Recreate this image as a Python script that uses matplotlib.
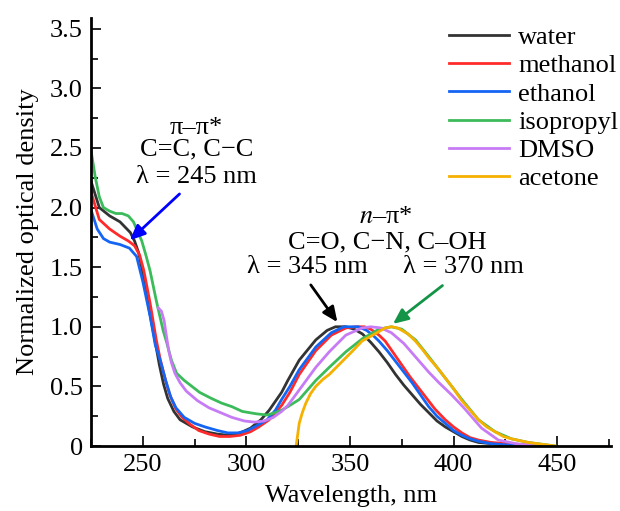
import matplotlib
matplotlib.use("Agg")
import matplotlib.pyplot as plt
from matplotlib.ticker import MultipleLocator

# Spectra (wavelength nm, normalized optical density)
wl_water = [225, 229, 234, 239, 244, 246, 248, 250, 253, 255.5, 258, 260, 262, 265, 268, 274, 280, 286, 291, 297,
            302, 307, 311, 317, 320, 325.5, 333.5, 339, 343, 348, 352, 356, 360, 364, 368, 372, 376, 380, 384, 388,
            392, 396, 400, 404, 408, 412, 418, 425, 435, 445]
od_water = [2.22, 2.00, 1.93, 1.88, 1.79, 1.72, 1.62, 1.45, 1.15, 0.92, 0.68, 0.52, 0.40, 0.29, 0.22, 0.16, 0.12, 0.10, 0.09, 0.11,
            0.15, 0.22, 0.30, 0.45, 0.55, 0.72, 0.89, 0.97, 1.00, 1.00, 0.98, 0.94, 0.87, 0.79, 0.70, 0.60, 0.51, 0.43, 0.35, 0.28,
            0.21, 0.16, 0.12, 0.08, 0.05, 0.03, 0.02, 0.01, 0.005, 0.0]

wl_methanol = [225, 229, 234, 239, 243, 246, 248.5, 250.5, 253.5, 256.5, 258.5, 261, 263, 266, 269, 273, 277, 282, 287, 292,
               297, 302, 306, 311, 317, 321, 325.5, 333.5, 341, 348, 353, 357, 360, 364, 367, 371, 375, 379, 383, 387,
               391, 396, 400, 404, 408, 412, 418, 425, 435, 445]
od_methanol = [2.13, 1.90, 1.82, 1.76, 1.72, 1.68, 1.60, 1.47, 1.20, 0.89, 0.72, 0.55, 0.43, 0.31, 0.24, 0.18, 0.13, 0.10, 0.08, 0.08,
               0.09, 0.12, 0.16, 0.22, 0.34, 0.45, 0.60, 0.80, 0.93, 0.99, 1.00, 1.00, 0.98, 0.93, 0.88, 0.78, 0.68, 0.58, 0.49, 0.40,
               0.31, 0.22, 0.16, 0.11, 0.07, 0.05, 0.03, 0.02, 0.01, 0.0]

wl_ethanol = [225, 228, 231, 234, 239, 243.5, 247, 250, 253.5, 256, 258.7, 261, 263.5, 266, 270, 275, 280, 286, 291, 296,
              300.5, 305, 310, 314, 317, 321, 325.5, 333.5, 341, 347, 354, 358, 361, 364, 368, 372, 376, 380, 384, 388,
              392, 396, 400, 404, 408, 412, 418, 425, 435, 445]
od_ethanol = [1.98, 1.82, 1.74, 1.71, 1.69, 1.66, 1.59, 1.38, 1.09, 0.85, 0.70, 0.55, 0.41, 0.32, 0.24, 0.19, 0.16, 0.13, 0.11, 0.11,
              0.13, 0.17, 0.22, 0.30, 0.39, 0.50, 0.64, 0.83, 0.95, 1.00, 1.00, 0.97, 0.93, 0.88, 0.80, 0.71, 0.62, 0.53, 0.43, 0.33,
              0.25, 0.19, 0.13, 0.09, 0.06, 0.04, 0.02, 0.01, 0.005, 0.0]

wl_isopropyl = [225, 227, 229, 231, 234, 237, 240, 243, 245.5, 247.5, 249.5, 251.5, 253.5, 256.5, 259.8, 261.5, 263.8, 266.3, 270, 277.4,
                283, 288, 293, 298, 304.8, 310, 314, 317, 320, 325.5, 333.5, 340, 348, 356, 364, 370, 375, 381.6, 388, 396,
                404, 412, 420, 428, 436, 449]
od_isopropyl = [2.48, 2.26, 2.09, 2.00, 1.97, 1.95, 1.95, 1.93, 1.88, 1.80, 1.72, 1.60, 1.47, 1.22, 0.97, 0.87, 0.72, 0.61, 0.55, 0.45,
                0.40, 0.36, 0.33, 0.29, 0.27, 0.26, 0.28, 0.30, 0.33, 0.39, 0.55, 0.66, 0.79, 0.90, 0.98, 1.00, 0.98, 0.89, 0.75, 0.57,
                0.39, 0.22, 0.12, 0.06, 0.03, 0.0]

wl_dmso = [257.4, 259, 260.3, 261.4, 262.5, 263.8, 265.5, 268, 271, 276.4, 282, 287.5, 293, 299, 304, 308.6, 313, 317, 320, 325.5,
           333.5, 340, 348, 355.8, 360, 365, 370, 376, 382, 388, 393, 399, 405, 413.5, 421.6, 430, 440]
od_dmso = [1.16, 1.13, 1.05, 0.92, 0.80, 0.70, 0.61, 0.53, 0.46, 0.38, 0.32, 0.28, 0.24, 0.21, 0.20, 0.21, 0.24, 0.29, 0.34, 0.47,
           0.66, 0.79, 0.93, 0.99, 1.00, 0.99, 0.95, 0.86, 0.74, 0.62, 0.53, 0.43, 0.32, 0.15, 0.05, 0.02, 0.0]

wl_acetone = [324, 324.8, 325.5, 327, 328.7, 331, 333.5, 337, 340, 344, 348, 352, 355.8, 360, 364, 367, 370, 373, 375, 378,
              381.6, 385, 388, 392, 396, 400, 404, 408, 412, 416, 420, 424, 428, 436, 449]
od_acetone = [0.0, 0.10, 0.19, 0.28, 0.36, 0.44, 0.50, 0.56, 0.60, 0.67, 0.74, 0.81, 0.88, 0.92, 0.96, 0.99, 1.00, 0.99, 0.97, 0.94,
              0.88, 0.81, 0.74, 0.66, 0.57, 0.48, 0.38, 0.30, 0.22, 0.16, 0.12, 0.08, 0.06, 0.03, 0.0]

plt.rcParams['font.family'] = ['Liberation Serif', 'DejaVu Serif']
plt.rcParams['mathtext.fontset'] = 'stix'

fig = plt.figure(figsize=(6.2, 5.11), dpi=100)
ax = fig.add_axes([0.1468, 0.1272, 0.8387, 0.8376])

lw = 2.0
ax.plot(wl_water, od_water, color="#333333", lw=lw, label="water")
ax.plot(wl_methanol, od_methanol, color="#ff2b2b", lw=lw, label="methanol")
ax.plot(wl_ethanol, od_ethanol, color="#1565f5", lw=lw, label="ethanol")
ax.plot(wl_isopropyl, od_isopropyl, color="#3cbb5a", lw=lw, label="isopropyl")
ax.plot(wl_dmso, od_dmso, color="#c77bf5", lw=lw, label="DMSO")
ax.plot(wl_acetone, od_acetone, color="#f5b000", lw=lw, label="acetone")

ax.set_xlim(225, 476)
ax.set_ylim(0, 3.59)
ax.xaxis.set_major_locator(MultipleLocator(50))
ax.xaxis.set_minor_locator(MultipleLocator(25))
ax.yaxis.set_major_locator(MultipleLocator(0.5))
ax.yaxis.set_minor_locator(MultipleLocator(0.25))
ax.set_yticks([0, 0.5, 1.0, 1.5, 2.0, 2.5, 3.0, 3.5])
ax.set_yticklabels(["0", "0.5", "1.0", "1.5", "2.0", "2.5", "3.0", "3.5"])
ax.set_xticks([250, 300, 350, 400, 450])
ax.tick_params(which="major", direction="in", length=7, width=1.2, labelsize=19, pad=6)
ax.tick_params(which="minor", direction="in", length=5, width=1.2)
for s in ["top", "right"]:
    ax.spines[s].set_visible(False)
for s in ["left", "bottom"]:
    ax.spines[s].set_linewidth(2)

ax.set_xlabel("Wavelength, nm", fontsize=19, labelpad=6)
ax.set_ylabel("Normalized optical density", fontsize=19, labelpad=8)

# pi-pi* band
fs = 19
ax.text(276, 2.67, "π–π*", fontsize=fs, ha="center", va="center")
ax.text(276, 2.49, "C=C, C−C", fontsize=fs, ha="center", va="center")
ax.text(276, 2.26, "λ = 245 nm", fontsize=fs, ha="center", va="center")
ax.annotate("", xy=(242.8, 1.71), xytext=(268.7, 2.13),
            arrowprops=dict(arrowstyle="-|>,head_length=0.9,head_width=0.4", color="#0000ff", lw=2))

# n-pi* band
ax.text(367.3, 1.92, "$n$–π*", fontsize=fs, ha="center", va="center")
ax.text(367.8, 1.71, "C=O, C−N, C–OH", fontsize=fs, ha="center", va="center")
ax.text(329.3, 1.50, "λ = 345 nm", fontsize=fs, ha="center", va="center")
ax.text(404.8, 1.50, "λ = 370 nm", fontsize=fs, ha="center", va="center")
ax.annotate("", xy=(344.7, 1.02), xytext=(330.3, 1.37),
            arrowprops=dict(arrowstyle="-|>,head_length=0.9,head_width=0.4", color="black", lw=2))
ax.annotate("", xy=(369.7, 1.01), xytext=(395.7, 1.36),
            arrowprops=dict(arrowstyle="-|>,head_length=0.9,head_width=0.4", color="#139447", lw=2))

ax.legend(loc="upper right", bbox_to_anchor=(1.027, 0.986), bbox_transform=fig.transFigure, frameon=False,
          fontsize=19, handlelength=2.27, handletextpad=0.34, labelspacing=0.18, borderpad=0.2)

fig.savefig("out.png", dpi=100)
